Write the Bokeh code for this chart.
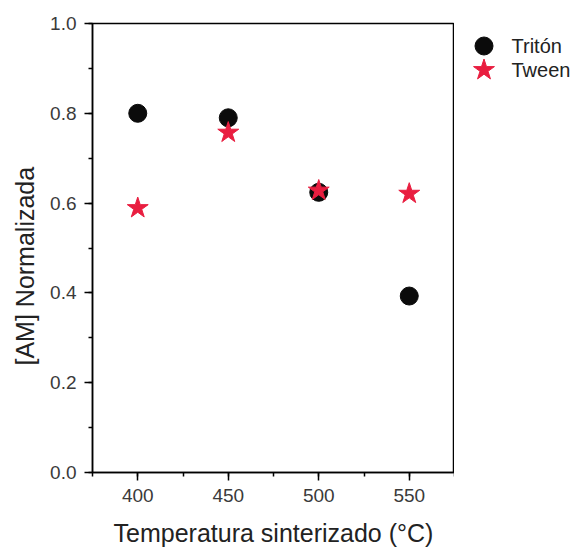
from bokeh.plotting import figure
from bokeh.layouts import row
from bokeh.models import (ColumnDataSource, Range1d, SingleIntervalTicker,
                          PrintfTickFormatter, Title)
from bokeh.core.properties import value
from bokeh.embed import file_html
from bokeh.resources import INLINE

temps = [400, 450, 500, 550]
triton = [0.800, 0.790, 0.624, 0.393]
tween = [0.589, 0.757, 0.628, 0.621]
series_names = ["Tritón", "Tween"]

FONT = "Liberation Sans"
C_TRITON = "#0b0b0b"
C_TWEEN = "#E91E40"

p = figure(width=454, height=549, output_backend="svg", toolbar_location=None,
           x_range=Range1d(375, 575), y_range=Range1d(0, 1.0),
           min_border_left=92, min_border_right=0, min_border_top=23, min_border_bottom=77)
p.xgrid.visible = False
p.ygrid.visible = False
p.outline_line_color = "black"
p.outline_line_width = 1.5
p.background_fill_color = "white"
p.border_fill_color = "white"

src_t = ColumnDataSource(dict(x=temps, y=triton))
src_w = ColumnDataSource(dict(x=temps, y=tween))
p.scatter("x", "y", source=src_t, marker="circle", size=18, fill_color=C_TRITON, line_color=C_TRITON)
p.scatter("x", "y", source=src_w, marker="star", size=22, fill_color=C_TWEEN, line_color=C_TWEEN)

p.xaxis.ticker = SingleIntervalTicker(interval=50, num_minor_ticks=2)
p.yaxis.ticker = SingleIntervalTicker(interval=0.2, num_minor_ticks=2)
p.yaxis.formatter = PrintfTickFormatter(format="%.1f")

for ax in (p.xaxis[0], p.yaxis[0]):
    ax.axis_line_color = "black"
    ax.axis_line_width = 1.5
    ax.major_tick_line_color = "black"
    ax.minor_tick_line_color = "black"
    ax.major_tick_line_width = 1.5
    ax.minor_tick_line_width = 1.5
    ax.major_tick_in = 0
    ax.major_tick_out = 8
    ax.minor_tick_in = 0
    ax.minor_tick_out = 4
    ax.major_label_text_font = FONT
    ax.major_label_text_font_size = "19px"
    ax.major_label_text_color = "#3a3a3a"
    ax.axis_label_text_font = FONT
    ax.axis_label_text_font_size = "25px"
    ax.axis_label_text_font_style = "normal"
    ax.axis_label_text_color = "#222222"

p.xaxis.axis_label = "Temperatura sinterizado (°C)"
p.xaxis.major_label_standoff = 8
p.yaxis.major_label_standoff = 8
p.xaxis.axis_label_standoff = 14

ytitle = Title(text="[AM] Normalizada", align="left", offset=107,
               text_font=FONT, text_font_size="25px", text_font_style="normal",
               text_color="#222222", standoff=17)
p.add_layout(ytitle, "left")

# legend panel: ranges set so that one unit equals one screen pixel
LEG_MARK_X = 483.5
LEG_TEXT_X = 511
LEG_ROW_Y = [45.5, 69.5]
p2 = figure(width=118, height=549, output_backend="svg", toolbar_location=None,
            x_range=Range1d(454, 572), y_range=Range1d(472, 23),
            min_border_left=0, min_border_right=0, min_border_top=23, min_border_bottom=77)
p2.axis.visible = False
p2.xgrid.visible = False
p2.ygrid.visible = False
p2.outline_line_color = None
p2.border_fill_color = "white"
p2.background_fill_color = "white"
p2.scatter(x=[LEG_MARK_X], y=[LEG_ROW_Y[0]], marker="circle", size=18, fill_color=C_TRITON, line_color=C_TRITON)
p2.scatter(x=[LEG_MARK_X], y=[LEG_ROW_Y[1]], marker="star", size=22, fill_color=C_TWEEN, line_color=C_TWEEN)
p2.text(x=[LEG_TEXT_X] * 2, y=LEG_ROW_Y, text=series_names, text_baseline="middle", text_align="left",
        text_font=value(FONT), text_font_size="20px", text_color="#222222")

layout = row(p, p2)
open("out.html", "w").write(file_html(layout, INLINE))
